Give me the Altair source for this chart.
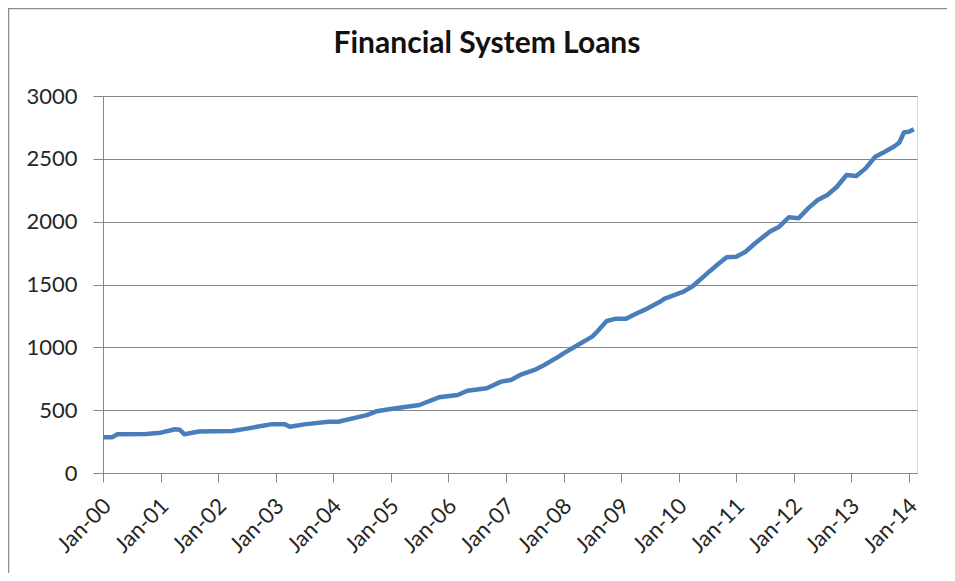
import altair as alt
import pandas as pd

dates = [
    "2000-01-01", "2000-03-01", "2000-04-01", "2000-10-01", "2001-01-01", "2001-03-01",
    "2001-04-01", "2001-05-01", "2001-06-01", "2001-09-01", "2002-04-01", "2002-07-01",
    "2002-10-01", "2002-12-01", "2003-03-01", "2003-04-01", "2003-07-01", "2003-12-01",
    "2004-02-01", "2004-08-01", "2004-10-01", "2004-12-01", "2005-02-01", "2005-07-01",
    "2005-11-01", "2006-03-01", "2006-05-01", "2006-09-01", "2006-12-01", "2007-02-01",
    "2007-04-01", "2007-07-01", "2007-09-01", "2007-12-01", "2008-01-01", "2008-04-01",
    "2008-07-01", "2008-08-01", "2008-10-01", "2008-12-01", "2009-02-01", "2009-04-01",
    "2009-06-01", "2009-09-01", "2009-10-01", "2010-01-01", "2010-02-01", "2010-04-01",
    "2010-07-01", "2010-09-01", "2010-11-01", "2011-01-01", "2011-03-01", "2011-05-01",
    "2011-08-01", "2011-10-01", "2011-12-01", "2012-02-01", "2012-04-01", "2012-06-01",
    "2012-08-01", "2012-10-01", "2012-12-01", "2013-02-01", "2013-04-01", "2013-06-01",
    "2013-08-01", "2013-10-01", "2013-11-01", "2013-12-01", "2014-01-01", "2014-02-01",
]
loans = [
    285, 285, 308, 310, 321, 338,
    348, 345, 308, 330, 334, 353,
    374, 387, 387, 368, 387, 408,
    408, 461, 491, 504, 515, 541,
    602, 621, 655, 674, 727, 740,
    780, 820, 859, 926, 952, 1018,
    1085, 1124, 1210, 1228, 1228, 1265,
    1300, 1360, 1385, 1430, 1443, 1488,
    1589, 1655, 1716, 1721, 1761, 1828,
    1920, 1960, 2035, 2027, 2106, 2172,
    2212, 2278, 2371, 2363, 2424, 2517,
    2557, 2600, 2630, 2711, 2715, 2735,
]
tick_dates = [f"{y}-01-01" for y in range(2000, 2015)]
y_ticks = [0, 500, 1000, 1500, 2000, 2500, 3000]

df = pd.DataFrame({"date": pd.to_datetime(dates), "loans": loans})

FONT = "Lato"
GREY = "#868686"
TEXT = "#262626"

W, H = 814, 377
PAD_L, PAD_T = 95, 88

line = alt.Chart(df).mark_line(color="#4A7EBB", strokeWidth=4.5, strokeJoin="round").encode(
    x=alt.X(
        "date:T",
        scale=alt.Scale(domain=["2000-01-01", "2014-02-21"], nice=False),
        axis=alt.Axis(
            title=None,
            values=tick_dates,
            format="%b-%y",
            labelAngle=315,
            labelAlign="right",
            labelBaseline="middle",
            labelPadding=20,
            labelOffset=4,
            tickSize=9,
            grid=False,
            labelFontSize=22,
            labelFont=FONT,
            labelColor=TEXT,
            domainColor=GREY,
            tickColor=GREY,
            labelOverlap=False,
            labelFlush=False,
        ),
    ),
    y=alt.Y(
        "loans:Q",
        scale=alt.Scale(domain=[0, 3000], nice=False),
        axis=alt.Axis(
            title=None,
            values=y_ticks,
            format="d",
            tickSize=10,
            labelPadding=16,
            grid=True,
            gridColor=GREY,
            gridWidth=1,
            labelFontSize=22,
            labelFont=FONT,
            labelColor=TEXT,
            domainColor=GREY,
            tickColor=GREY,
        ),
    ),
)

frame = alt.Chart(alt.Data(values=[{}])).mark_rect(
    fill=None, stroke="#8c8c8c", strokeWidth=1.5
).encode(
    x=alt.value(-PAD_L + 0.5),
    x2=alt.value(W + 200),
    y=alt.value(-PAD_T + 0.5),
    y2=alt.value(H + 200),
)

chart = alt.layer(frame, line).properties(
    width=W,
    height=H,
    padding={"left": PAD_L, "top": PAD_T, "right": 30, "bottom": 100},
    autosize=alt.AutoSizeParams(type="none"),
    title=alt.TitleParams(
        "Financial System Loans",
        font=FONT,
        fontSize=30,
        fontWeight="bold",
        color="#111111",
        anchor="middle",
        frame="group",
        dx=-23,
        baseline="alphabetic",
        offset=-75,
    ),
).configure_view(stroke=None).configure(background="white")

chart.save("out.html", embed_options={"renderer": "svg", "actions": False})
